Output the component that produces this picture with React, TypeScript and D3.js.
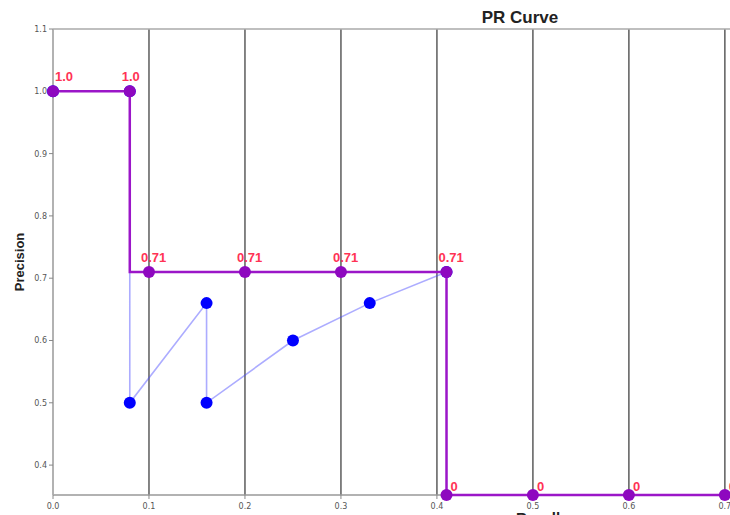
import React, { useRef, useEffect } from 'react';
import * as d3 from 'd3';

// raw PR points (blue)
const rawRecall = [0, 0.08, 0.08, 0.16, 0.16, 0.25, 0.33, 0.41];
const rawPrecision = [1.0, 1.0, 0.5, 0.66, 0.5, 0.6, 0.66, 0.71];

// interpolated PR points (purple)
const interpRecall = [0, 0.08, 0.1, 0.2, 0.3, 0.41, 0.41, 0.5, 0.6, 0.7];
const interpPrecision = [1.0, 1.0, 0.71, 0.71, 0.71, 0.71, 0, 0, 0, 0];
const interpLabels = ['1.0', '1.0', '0.71', '0.71', '0.71', '0.71', '0', '0', '0', '0'];

const xTicks = [0, 0.1, 0.2, 0.3, 0.4, 0.5, 0.6, 0.7, 0.8, 0.9];
const yTicks = [0.4, 0.5, 0.6, 0.7, 0.8, 0.9, 1.0, 1.1];

function App() {
  const svgRef = useRef<SVGSVGElement>(null);
  const width = 730;
  const height = 515;

  useEffect(() => {
    const svg = d3.select(svgRef.current);
    svg.selectAll('*').remove();

    const x = d3.scaleLinear().domain([0, 0.97]).range([53, 984]);
    const y = d3.scaleLinear().domain([0.352, 1.1]).range([495, 29]).clamp(true);

    const font = 'DejaVu Sans, sans-serif';
    const bold = 'Liberation Sans, Arial, sans-serif';

    // vertical grid
    svg.append('g')
      .selectAll('line')
      .data(xTicks.slice(1))
      .join('line')
      .attr('x1', d => x(d)).attr('x2', d => x(d))
      .attr('y1', y(1.1)).attr('y2', y(0.352))
      .attr('stroke', '#666')
      .attr('stroke-width', 1.6);

    // spines
    svg.append('line').attr('x1', x(0)).attr('x2', 990).attr('y1', y(1.1)).attr('y2', y(1.1))
      .attr('stroke', '#aaa').attr('stroke-width', 1.5);
    svg.append('line').attr('x1', x(0)).attr('x2', 990).attr('y1', y(0.352)).attr('y2', y(0.352))
      .attr('stroke', '#999').attr('stroke-width', 1.5);
    svg.append('line').attr('x1', x(0)).attr('x2', x(0)).attr('y1', y(1.1)).attr('y2', y(0.352))
      .attr('stroke', '#aaa').attr('stroke-width', 1.8);

    // y ticks
    const yAx = svg.append('g');
    yAx.selectAll('line').data(yTicks).join('line')
      .attr('x1', x(0) - 4).attr('x2', x(0)).attr('y1', d => y(d)).attr('y2', d => y(d))
      .attr('stroke', '#888');
    yAx.selectAll('text').data(yTicks).join('text')
      .attr('x', x(0) - 6).attr('y', d => y(d) + 3)
      .attr('text-anchor', 'end')
      .style('font-family', font).style('font-size', '8px').attr('fill', '#555')
      .text(d => d.toFixed(1));

    // x ticks
    const xAx = svg.append('g');
    xAx.selectAll('line').data(xTicks).join('line')
      .attr('x1', d => x(d)).attr('x2', d => x(d)).attr('y1', y(0.352)).attr('y2', y(0.352) + 4)
      .attr('stroke', '#888');
    xAx.selectAll('text').data(xTicks).join('text')
      .attr('x', d => x(d)).attr('y', y(0.352) + 14)
      .attr('text-anchor', 'middle')
      .style('font-family', font).style('font-size', '8px').attr('fill', '#555')
      .text(d => d.toFixed(1));

    // titles
    svg.append('text').attr('x', 520).attr('y', 23).attr('text-anchor', 'middle')
      .style('font-family', bold).style('font-size', '17px').style('font-weight', 'bold')
      .attr('fill', '#222').text('PR Curve');
    svg.append('text').attr('x', 538).attr('y', 523).attr('text-anchor', 'middle')
      .style('font-family', bold).style('font-size', '15px').style('font-weight', 'bold')
      .attr('fill', '#222').text('Recall');
    svg.append('text').attr('transform', `translate(24,${(y(1.1) + y(0.352)) / 2}) rotate(-90)`)
      .attr('text-anchor', 'middle')
      .style('font-family', bold).style('font-size', '13px').style('font-weight', 'bold')
      .attr('fill', '#222').text('Precision');

    // raw curve
    const raw = rawRecall.map((r, i) => [r, rawPrecision[i]] as [number, number]);
    svg.append('path')
      .datum(raw)
      .attr('fill', 'none')
      .attr('stroke', 'rgba(70,70,255,0.45)')
      .attr('stroke-width', 1.6)
      .attr('d', d3.line<[number, number]>().x(d => x(d[0])).y(d => y(d[1])));
    svg.append('g').selectAll('circle').data(raw).join('circle')
      .attr('cx', d => x(d[0])).attr('cy', d => y(d[1])).attr('r', 6)
      .attr('fill', '#0000ff');

    // interpolated curve
    const interp = interpRecall.map((r, i) => [r, interpPrecision[i]] as [number, number]);
    svg.append('path')
      .datum(interp)
      .attr('fill', 'none')
      .attr('stroke', '#9b16c8')
      .attr('stroke-width', 2.5)
      .attr('d', d3.line<[number, number]>().x(d => x(d[0])).y(d => y(d[1])).curve(d3.curveStepBefore));
    svg.append('g').selectAll('circle').data(interp).join('circle')
      .attr('cx', d => x(d[0])).attr('cy', d => y(d[1])).attr('r', 6)
      .attr('fill', '#8e08bf');
    svg.append('g').selectAll('text').data(interp).join('text')
      .attr('x', d => d[1] === 0 ? x(d[0]) + 4 : Math.max(x(d[0]) - 8, 55))
      .attr('y', d => d[1] === 0 ? y(d[1]) - 4 : y(d[1]) - 10)
      .style('font-family', bold).style('font-size', '13px').style('font-weight', 'bold')
      .attr('fill', '#ff3355')
      .text((d, i) => interpLabels[i]);
  }, []);

  return (
    <div style={{ position: 'absolute', left: 0, top: 0, width: width, height: height, overflow: 'hidden', background: '#fff' }}>
      <svg ref={svgRef} width={width} height={height} style={{ display: 'block' }}></svg>
    </div>
  );
}

export default App;
